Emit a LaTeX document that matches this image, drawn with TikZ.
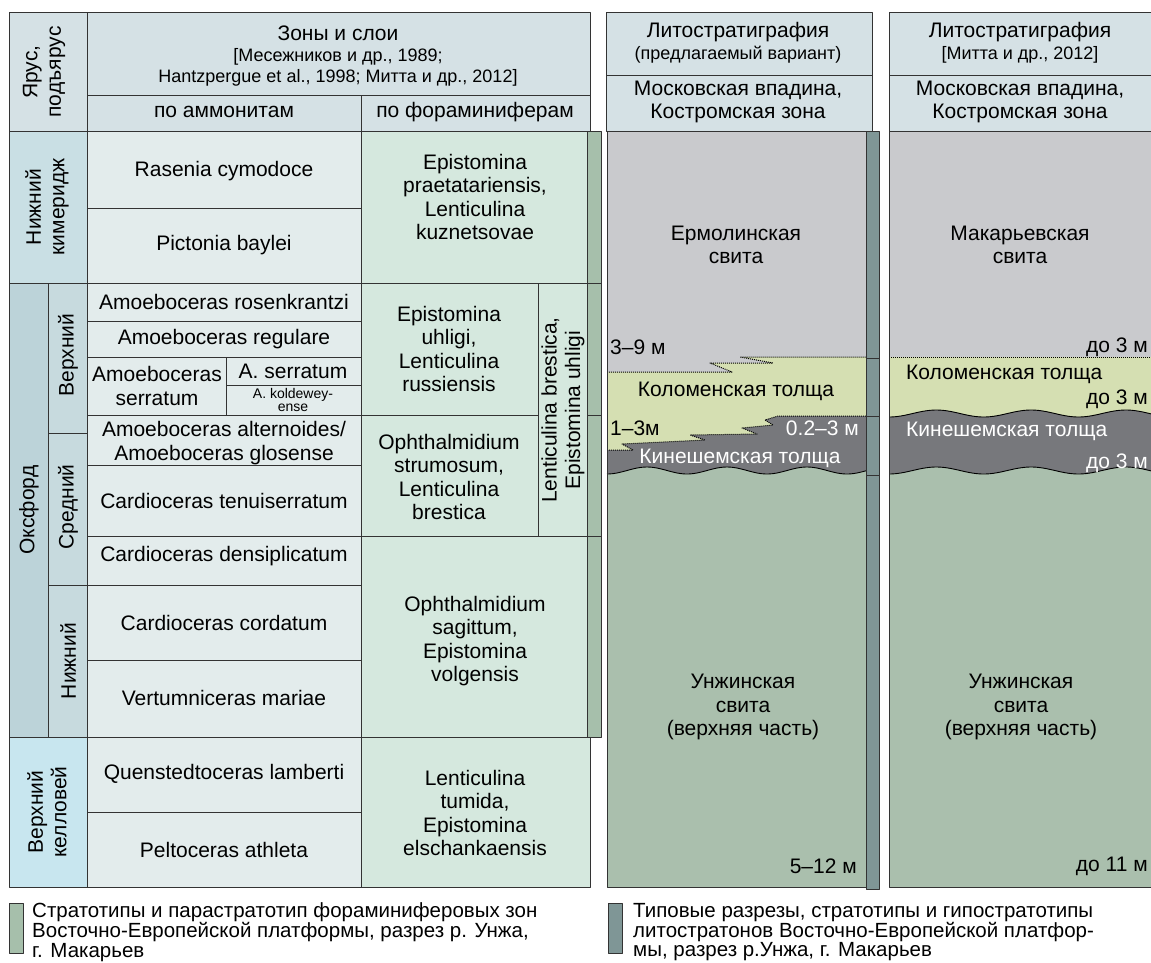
\documentclass[tikz,border=0pt]{standalone}
\usepackage{fontspec}
\setmainfont{Liberation Sans}
\newcommand\fMain{\fontsize{21}{23.5}\selectfont}
\newcommand\fSmall{\fontsize{18}{20.5}\selectfont}
\newcommand\fTiny{\fontsize{14}{13.5}\selectfont}
\newcommand\fLeg{\fontsize{20.5}{19.2}\selectfont}
\definecolor{lc}{HTML}{333333}
\definecolor{hdr}{HTML}{D5E1E5}
\definecolor{amm}{HTML}{E3ECEC}
\definecolor{foram}{HTML}{D5E8DE}
\definecolor{kim}{HTML}{C9DFE4}
\definecolor{oxf}{HTML}{BCD3D9}
\definecolor{oxfsub}{HTML}{C7DADE}
\definecolor{call}{HTML}{C8E6EF}
\definecolor{gbar}{HTML}{A6BFAB}
\definecolor{dbar}{HTML}{7F9696}
\definecolor{lgray}{HTML}{C9CACD}
\definecolor{lyel}{HTML}{D5DFB2}
\definecolor{ldark}{HTML}{77787C}
\definecolor{lgreen}{HTML}{AABFAD}
\tikzset{
  ln/.style={draw=lc, line width=1pt},
  t/.style={inner sep=0pt, align=center, font=\fMain, text=black},
  ts/.style={t, font=\fSmall},
  tw/.style={t, text=white},
  dotb/.style={draw=black, line width=1pt, dash pattern=on 1pt off 1pt},
  wav/.style={draw=black, line width=0.9pt},
}
\begin{document}
\begin{tikzpicture}[x=1pt,y=-1pt,line join=round]
\useasboundingbox (0,0) rectangle (1151,962);
% ---------------- left table ----------------
\path[ln,fill=hdr] (9,12) rectangle (87,131);
\path[ln,fill=hdr] (87,12) rectangle (590,95);
\path[ln,fill=hdr] (87,95) rectangle (361,131);
\path[ln,fill=hdr] (361,95) rectangle (590,131);
% stage column
\path[ln,fill=kim] (9,131) rectangle (87,283);
\path[ln,fill=oxf] (9,283) rectangle (48,737);
\path[ln,fill=oxfsub] (48,283) rectangle (87,433);
\path[ln,fill=oxfsub] (48,433) rectangle (87,585);
\path[ln,fill=oxfsub] (48,585) rectangle (87,737);
\path[ln,fill=call] (9,737) rectangle (87,887);
% ammonite column
\foreach \a/\b in {131/208,208/283,283/321,321/357,415/465,465/536,536/585,585/660,660/737,737/812,812/887}
  \path[ln,fill=amm] (87,\a) rectangle (361,\b);
\path[ln,fill=amm] (87,357) rectangle (226,415);
\path[ln,fill=amm] (226,357) rectangle (361,385);
\path[ln,fill=amm] (226,385) rectangle (361,415);
% foraminifera column
\path[ln,fill=foram] (361,131) rectangle (590,283);
\path[ln,fill=foram] (361,283) rectangle (538,415);
\path[ln,fill=foram] (361,415) rectangle (538,536);
\path[ln,fill=foram] (538,283) rectangle (590,536);
\path[ln,fill=foram] (361,536) rectangle (590,737);
\path[ln,fill=foram] (361,737) rectangle (590,887);
% green bar
\foreach \a/\b in {131/283,283/415,415/536,536/737}
  \path[ln,fill=gbar] (587,\a) rectangle (601,\b);
% header texts
\node[t,rotate=90] (hyar) at (44,72) {Ярус,\\подъярус};
\node[t] (hz1) at (338,33) {Зоны и слои};
\node[ts] (hz2) at (338,57) {[Месежников и др., 1989;};
\node[ts] (hz3) at (338,78) {Hantzpergue et al., 1998; Митта и др., 2012]};
\node[t] (ham) at (224,112) {по аммонитам};
\node[t] (hfo) at (475,112) {по фораминиферам};
% stage texts
\node[t,rotate=90] (skim) at (47,207) {Нижний\\кимеридж};
\node[t,rotate=90] (soxf) at (29,510) {Оксфорд};
\node[t,rotate=90] (supp) at (68,355) {Верхний};
\node[t,rotate=90] (smid) at (68,507) {Средний};
\node[t,rotate=90] (slow) at (68,661) {Нижний};
\node[t,rotate=90] (scal) at (47,812) {Верхний\\келловей};
% ammonite zones
\node[t] (a1) at (224,171) {Rasenia cymodoce};
\node[t] (a2) at (224,245) {Pictonia baylei};
\node[t] (a3) at (224,302) {Amoeboceras rosenkrantzi};
\node[t] (a4) at (224,339) {Amoeboceras regulare};
\node[t] (a5) at (157,386) {Amoeboceras\\serratum};
\node[t] (a5a) at (293,371) {A. serratum};
\node[t,font=\fTiny] (a5b) at (293,400) {A. koldewey-\\ense};
\node[t] (a6) at (224,443) {Amoeboceras alternoides/\\Amoeboceras glosense};
\node[t] (a7) at (224,501) {Cardioceras tenuiserratum};
\node[t] (a8) at (224,556) {Cardioceras densiplicatum};
\node[t] (a9) at (224,623) {Cardioceras cordatum};
\node[t] (a10) at (224,698) {Vertumniceras mariae};
\node[t] (a11) at (224,774) {Quenstedtoceras lamberti};
\node[t] (a12) at (224,850) {Peltoceras athleta};
% foram zones
\node[t] (f1) at (475,197) {Epistomina\\praetatariensis,\\Lenticulina\\kuznetsovae};
\node[t] (f2) at (449,349) {Epistomina\\uhligi,\\Lenticulina\\russiensis};
\node[t] (f3) at (449,477) {Ophthalmidium\\strumosum,\\Lenticulina\\brestica};
\node[t,rotate=90] (f4) at (563,410) {Lenticulina brestica,\\Epistomina uhligi};
\node[t] (f5) at (475,641) {Ophthalmidium\\sagittum,\\Epistomina\\volgensis};
\node[t] (f6) at (475,813) {Lenticulina\\tumida,\\Epistomina\\elschankaensis};
% ---------------- right part: headers ----------------
\path[ln,fill=hdr] (606,12) rectangle (872,75);
\path[ln,fill=hdr] (606,75) rectangle (872,131);
\path[ln,fill=hdr] (889,12) rectangle (1155,75);
\path[ln,fill=hdr] (889,75) rectangle (1155,131);
\node[t] (l1a) at (738,32) {Литостратиграфия};
\node[ts] (l1b) at (738,55) {(предлагаемый вариант)};
\node[t] (l1c) at (738,102) {Московская впадина,\\Костромская зона};
\node[t] (l2a) at (1020,32) {Литостратиграфия};
\node[ts] (l2b) at (1020,55) {[Митта и др., 2012]};
\node[t] (l2c) at (1020,102) {Московская впадина,\\Костромская зона};
% ---------------- column 1 ----------------
\fill[lgray] (607,131) rectangle (866,887);
\fill[lyel] (607,372) -- (732,372) -- (710,363) -- (773,363) -- (740,357) -- (866,357) -- (866,887) -- (607,887) -- cycle;
\fill[ldark] (607,450) -- (633,450) -- (622,444) -- (705,440) -- (690,435) -- (757,434) -- (742,428) -- (773,425) -- (765,420) -- (778,416) -- (866,416) -- (866,887) -- (607,887) -- cycle;
\fill[lgreen] plot[domain=607:866,samples=90,variable=\s] (\s,{470.5+3.5*cos((\s-607)*4.5)}) -- (866,887) -- (607,887) -- cycle;
\path[dotb] (607,372) -- (732,372) -- (710,363) -- (773,363) -- (740,357) -- (866,357);
\path[dotb] (607,450) -- (633,450) -- (622,444) -- (705,440) -- (690,435) -- (757,434) -- (742,428) -- (773,425) -- (765,420) -- (778,416) -- (866,416);
\path[wav] plot[domain=607:866,samples=90,variable=\s] (\s,{470.5+3.5*cos((\s-607)*4.5)});
\path[ln] (607,131) rectangle (866,887);
% ---------------- column 2 ----------------
\fill[lgray] (889,131) rectangle (1155,887);
\fill[lyel] (889,357) rectangle (1155,887);
\fill[ldark] plot[domain=889:1155,samples=90,variable=\s] (\s,{413.5+3.5*cos((\s-889)*3.8)}) -- (1155,887) -- (889,887) -- cycle;
\fill[lgreen] plot[domain=889:1155,samples=90,variable=\s] (\s,{470.5+3.5*cos((\s-889)*3.8)}) -- (1155,887) -- (889,887) -- cycle;
\path[dotb] (889,357) -- (1155,357);
\path[wav] plot[domain=889:1155,samples=90,variable=\s] (\s,{413.5+3.5*cos((\s-889)*3.8)});
\path[wav] plot[domain=889:1155,samples=90,variable=\s] (\s,{470.5+3.5*cos((\s-889)*3.8)});
\path[ln] (889,131) rectangle (1155,887);
% dark bar
\foreach \a/\b in {131/358,358/416,416/475,475/889}
  \path[ln,fill=dbar] (866,\a) rectangle (879,\b);
% column 1 texts
\node[t] (c1a) at (736,245) {Ермолинская\\свита};
\node[t,anchor=west] (c1b) at (610,347) {3–9 м};
\node[t] (c1c) at (736,391) {Коломенская толща};
\node[t,anchor=west] (c1d) at (610,428) {1–3м};
\node[tw,anchor=east] (c1e) at (859,428) {0.2–3 м};
\node[tw] (c1f) at (740,458) {Кинешемская толща};
\node[t] (c1g) at (743,707) {Унжинская\\свита\\(верхняя часть)};
\node[t,anchor=east] (c1h) at (857,866) {5–12 м};
% column 2 texts
\node[t] (c2a) at (1020,245) {Макарьевская\\свита};
\node[t,anchor=east] (c2b) at (1148,347) {до 3 м};
\node[t,anchor=west] (c2c) at (906,374) {Коломенская толща};
\node[t,anchor=east] (c2d) at (1148,399) {до 3 м};
\node[tw,anchor=west] (c2e) at (906,431) {Кинешемская толща};
\node[tw,anchor=east] (c2f) at (1148,463) {до 3 м};
\node[t] (c2g) at (1021,707) {Унжинская\\свита\\(верхняя часть)};
\node[t,anchor=east] (c2h) at (1148,866) {до 11 м};
% ---------------- legend ----------------
\path[ln,fill=gbar] (9,903) rectangle (23,953);
\node[t,font=\fLeg,align=left,anchor=west] (leg1) at (32,932) {Стратотипы и парастратотип фораминиферовых зон\\Восточно-Европейской платформы, разрез р. Унжа,\\г. Макарьев};
\path[ln,fill=dbar] (608,903) rectangle (622,953);
\node[t,font=\fLeg,align=left,anchor=west] (leg2) at (633,932) {Типовые разрезы, стратотипы и гипостратотипы\\литостратонов Восточно-Европейской платфор-\\мы, разрез р.Унжа, г. Макарьев};
\end{tikzpicture}
\end{document}
